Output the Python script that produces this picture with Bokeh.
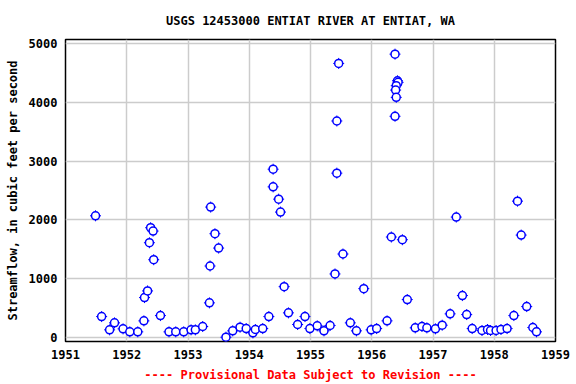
from bokeh.plotting import figure
from bokeh.models import Range1d, FixedTicker, ColumnDataSource
from bokeh.embed import file_html
from bokeh.resources import INLINE

# decimal-year dates and streamflow (cfs)
years = [1951.49, 1951.59, 1951.72, 1951.80, 1951.94, 1952.05, 1952.18, 1952.28,
         1952.29, 1952.34, 1952.37, 1952.39, 1952.43, 1952.44, 1952.55, 1952.69,
         1952.80, 1952.93, 1953.05, 1953.12, 1953.24, 1953.35, 1953.36, 1953.37,
         1953.44, 1953.50, 1953.62, 1953.73, 1953.85, 1953.95, 1954.06, 1954.10,
         1954.22, 1954.32, 1954.39, 1954.39, 1954.48, 1954.51, 1954.57, 1954.64,
         1954.79, 1954.91, 1954.99, 1955.11, 1955.22, 1955.32, 1955.40, 1955.43,
         1955.43, 1955.46, 1955.53, 1955.65, 1955.75, 1955.87, 1955.99, 1956.08,
         1956.25, 1956.32, 1956.38, 1956.42, 1956.43, 1956.40, 1956.39, 1956.40,
         1956.38, 1956.50, 1956.58, 1956.71, 1956.82, 1956.90, 1957.04, 1957.15,
         1957.28, 1957.38, 1957.48, 1957.55, 1957.64, 1957.80, 1957.89, 1957.94,
         1958.03, 1958.11, 1958.21, 1958.32, 1958.38, 1958.44, 1958.53, 1958.63,
         1958.69]
flow = [2070, 356, 130, 249, 147, 96, 96, 283,
        679, 792, 1612, 1867, 1810, 1323, 373, 96,
        96, 96, 130, 130, 187, 589, 1216, 2218,
        1765, 1521, 5, 113, 175, 152, 79, 136,
        152, 356, 2862, 2562, 2353, 2133, 865, 419,
        221, 356, 152, 198, 113, 204, 1081, 2795,
        3682, 4661, 1420, 249, 113, 831, 130, 152,
        283, 1709, 4819, 4366, 4339, 4282, 4208, 4084,
        3762, 1663, 645, 164, 187, 164, 147, 209,
        402, 2048, 713, 390, 152, 119, 136, 119,
        119, 136, 152, 373, 2319, 1742, 526, 170,
        96]
x_ticks = [1951, 1952, 1953, 1954, 1955, 1956, 1957, 1958, 1959]
y_ticks = [0, 1000, 2000, 3000, 4000, 5000]

FONT = "DejaVu Sans Mono"

p = figure(width=576, height=384, output_backend="svg", toolbar_location=None,
           x_range=Range1d(1951, 1959), y_range=Range1d(-68, 5068),
           min_border_left=65, min_border_right=21, min_border_top=39,
           min_border_bottom=42)

p.title.text = "USGS 12453000 ENTIAT RIVER AT ENTIAT, WA"
p.title.align = "center"
p.title.text_font = FONT
p.title.text_font_size = "12px"
p.title.text_font_style = "bold"
p.title.text_color = "black"
p.title.standoff = 23

p.outline_line_color = "black"
p.outline_line_width = 1.5
p.background_fill_color = "white"
p.border_fill_color = "white"

p.xaxis.ticker = FixedTicker(ticks=x_ticks)
p.yaxis.ticker = FixedTicker(ticks=y_ticks)
for ax in (p.xaxis, p.yaxis):
    ax.axis_line_color = None
    ax.major_tick_line_color = None
    ax.minor_tick_line_color = None
    ax.major_tick_out = 0
    ax.major_tick_in = 0
    ax.minor_tick_out = 0
    ax.major_label_text_font = FONT
    ax.major_label_text_font_size = "12px"
    ax.major_label_text_font_style = "bold"
    ax.major_label_text_color = "black"
    ax.axis_label_text_font = FONT
    ax.axis_label_text_font_size = "12px"
    ax.axis_label_text_font_style = "bold"

p.yaxis.axis_label = "Streamflow, in cubic feet per second"
p.yaxis.axis_label_text_color = "black"
p.yaxis.axis_label_standoff = 6
p.yaxis.major_label_standoff = 8

p.xaxis.axis_label = "---- Provisional Data Subject to Revision ----"
p.xaxis.axis_label_text_color = "red"
p.xaxis.axis_label_standoff = 6
p.xaxis.major_label_standoff = 8

p.xgrid.grid_line_color = "#cccccc"
p.ygrid.grid_line_color = "#cccccc"
p.xgrid.grid_line_width = 1.5
p.ygrid.grid_line_width = 1.5

src = ColumnDataSource(data=dict(x=years, y=flow))
p.scatter("x", "y", source=src, marker="cross", size=11, line_color="blue",
          line_width=1)
p.scatter("x", "y", source=src, marker="circle", size=8, line_color="blue",
          fill_color="white", line_width=1.5)

open("out.html", "w").write(file_html(p, INLINE))
